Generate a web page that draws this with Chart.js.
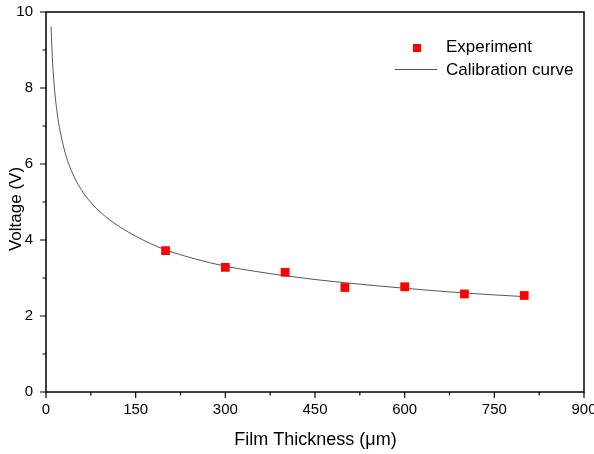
<!DOCTYPE html>
<html>
<head>
<meta charset="utf-8">
<script src="https://cdn.jsdelivr.net/npm/chart.js@4"></script>
<style>
  html, body { margin: 0; padding: 0; background: #fff; }
  #wrap { width: 594px; height: 454px; }
</style>
</head>
<body>
<div id="wrap"><canvas id="c" width="594" height="454"></canvas></div>
<script>
// Measured points
const expThickness = [200, 300, 400, 500, 600, 700, 800];
const expVoltage   = [3.72, 3.28, 3.15, 2.75, 2.77, 2.58, 2.54];

// Calibration curve samples
const calThickness = [8.5, 10, 12, 15, 20, 25, 32, 40, 50, 60, 70, 85, 100, 125, 150, 175, 200, 250, 300, 350, 400, 450, 500, 550, 600, 650, 700, 750, 800];
const calVoltage   = [9.62, 9.00, 8.43, 7.84, 7.20, 6.76, 6.30, 5.92, 5.57, 5.30, 5.08, 4.82, 4.61, 4.33, 4.10, 3.905, 3.74, 3.50, 3.31, 3.175, 3.06, 2.96, 2.875, 2.80, 2.73, 2.665, 2.605, 2.555, 2.51];

// Axis ticks
const xMajorTicks = [0, 150, 300, 450, 600, 750, 900];
const xMinorTicks = [75, 225, 375, 525, 675, 825];
const yMajorTicks = [0, 2, 4, 6, 8, 10];
const yMinorTicks = [1, 3, 5, 7, 9];

const legendLabels = ['Experiment', 'Calibration curve'];
const xTitle = 'Film Thickness (\u03bcm)';
const yTitle = 'Voltage (V)';

const FONT = '"Liberation Sans", Arial, sans-serif';
const AXIS_COLOR = '#000';

const expPoints = expThickness.map((x, i) => ({ x: x, y: expVoltage[i] }));
const calPoints = calThickness.map((x, i) => ({ x: x, y: calVoltage[i] }));

// Frame, outward tick marks, axis titles and in-plot legend
const framePlugin = {
  id: 'frame',
  afterDraw(chart) {
    const ctx = chart.ctx;
    const a = chart.chartArea;
    const xs = chart.scales.x, ys = chart.scales.y;
    ctx.save();
    ctx.strokeStyle = AXIS_COLOR;
    ctx.lineWidth = 1.5;
    ctx.strokeRect(a.left, a.top, a.right - a.left, a.bottom - a.top);

    ctx.lineWidth = 1.2;
    ctx.beginPath();
    xMajorTicks.forEach(v => { const p = xs.getPixelForValue(v); ctx.moveTo(p, a.bottom); ctx.lineTo(p, a.bottom + 6); });
    xMinorTicks.forEach(v => { const p = xs.getPixelForValue(v); ctx.moveTo(p, a.bottom); ctx.lineTo(p, a.bottom + 3.5); });
    yMajorTicks.forEach(v => { const p = ys.getPixelForValue(v); ctx.moveTo(a.left, p); ctx.lineTo(a.left - 6, p); });
    yMinorTicks.forEach(v => { const p = ys.getPixelForValue(v); ctx.moveTo(a.left, p); ctx.lineTo(a.left - 3.5, p); });
    ctx.stroke();

    // axis titles
    ctx.fillStyle = '#000';
    ctx.textAlign = 'center';
    ctx.textBaseline = 'middle';
    ctx.font = '18px ' + FONT;
    ctx.fillText(xTitle, (a.left + a.right) / 2 + 0.5, 440);
    ctx.save();
    ctx.translate(16, 209);
    ctx.rotate(-Math.PI / 2);
    ctx.font = '17px ' + FONT;
    ctx.fillText(yTitle, 0, 0);
    ctx.restore();

    // legend
    const ds = chart.data.datasets;
    ctx.textAlign = 'left';
    ctx.font = '17px ' + FONT;
    ctx.fillStyle = ds[0].backgroundColor;
    ctx.fillRect(413, 44, 8, 8);
    ctx.fillStyle = '#000';
    ctx.fillText(legendLabels[0], 446, 47);
    ctx.strokeStyle = ds[1].borderColor;
    ctx.lineWidth = 1;
    ctx.beginPath();
    ctx.moveTo(395, 69.5);
    ctx.lineTo(437, 69.5);
    ctx.stroke();
    ctx.fillText(legendLabels[1], 446, 70);
    ctx.restore();
  }
};

new Chart(document.getElementById('c'), {
  type: 'scatter',
  data: {
    datasets: [
      {
        label: legendLabels[0],
        data: expPoints,
        backgroundColor: '#ff0000',
        borderColor: '#ff0000',
        borderWidth: 0,
        pointStyle: 'rect',
        pointRadius: 6.2,
        order: 0
      },
      {
        label: legendLabels[1],
        data: calPoints,
        showLine: true,
        borderColor: '#555555',
        borderWidth: 1,
        pointRadius: 0,
        cubicInterpolationMode: 'monotone',
        order: 1
      }
    ]
  },
  options: {
    responsive: false,
    animation: false,
    layout: { padding: { top: 12, right: 10, left: 0, bottom: 0 } },
    plugins: { legend: { display: false }, tooltip: { enabled: false } },
    scales: {
      x: {
        type: 'linear',
        min: 0, max: 900,
        afterBuildTicks(scale) { scale.ticks = xMajorTicks.map(v => ({ value: v })); },
        afterFit(scale) { scale.height = 62; scale.paddingRight = 0; scale.paddingLeft = 0; },
        grid: { display: false, drawTicks: false },
        border: { display: false },
        ticks: { color: '#000', font: { size: 15, family: FONT }, padding: 9, maxRotation: 0 }
      },
      y: {
        min: 0, max: 10,
        afterBuildTicks(scale) { scale.ticks = yMajorTicks.map(v => ({ value: v })); },
        afterFit(scale) { scale.width = 46; scale.paddingTop = 0; scale.paddingBottom = 0; },
        grid: { display: false, drawTicks: false },
        border: { display: false },
        ticks: { color: '#000', font: { size: 15, family: FONT }, padding: 13 }
      }
    }
  },
  plugins: [framePlugin]
});
</script>
</body>
</html>
